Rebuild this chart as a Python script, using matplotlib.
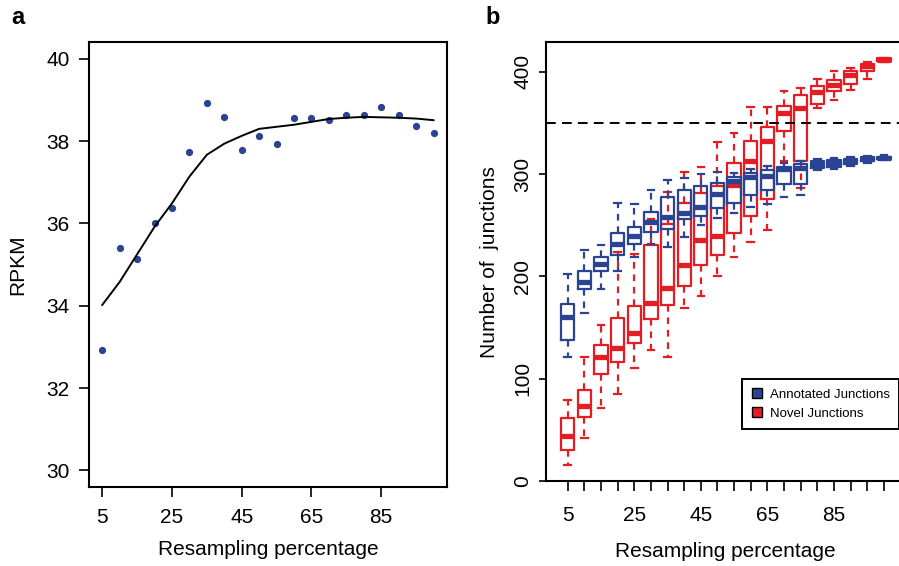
import matplotlib
matplotlib.use("Agg")
import matplotlib.pyplot as plt
from matplotlib.lines import Line2D

plt.rcParams['font.family'] = ['Liberation Sans', 'DejaVu Sans']

# ---- panel a: RPKM vs resampling percentage ----
pct = [5, 10, 15, 20, 25, 30, 35, 40, 45, 50, 55, 60, 65, 70, 75, 80, 85, 90, 95, 100]
rpkm = [32.93, 35.40, 35.13, 36.02, 36.38, 37.74, 38.93, 38.59, 37.78, 38.12,
        37.94, 38.56, 38.57, 38.51, 38.64, 38.64, 38.83, 38.64, 38.38, 38.20]
rpkm_trend = [34.02, 34.58, 35.25, 35.92, 36.49, 37.14, 37.67, 37.94, 38.13, 38.30,
              38.35, 38.40, 38.47, 38.54, 38.57, 38.59, 38.58, 38.57, 38.55, 38.51]
a_xticks = [5, 25, 45, 65, 85]
a_yticks = [30, 32, 34, 36, 38, 40]

# ---- panel b: junction counts per resampling level (five-number summaries) ----
# lower whisker, Q1, median, Q3, upper whisker
annot_lo = [121, 164, 188, 205, 219, 232, 229, 239, 250, 257, 262, 268, 271, 278, 280, 304, 305, 308, 311, 313.5]
annot_q1 = [138, 188, 205, 221, 232, 243, 246, 256, 259, 267, 272, 280, 284, 290, 290, 306, 307, 310, 312.5, 314.5]
annot_med = [160, 195, 212, 232, 240, 253, 258, 262, 268, 281, 293, 297, 298, 305, 306, 310, 311, 313, 314.5, 316]
annot_q3 = [173, 205, 219, 242, 248, 263, 278, 284, 288, 291, 297, 301, 304, 307, 310, 313, 314, 315, 316.5, 317]
annot_hi = [202, 226, 231, 272, 271, 284, 294, 296, 300, 302, 301, 305, 308, 311, 313, 315, 316, 317, 318, 318.5]

novel_lo = [16, 42, 71, 85, 111, 128, 121, 169, 181, 200, 219, 234, 245, 313, 286, 365, 372, 382, 393, 409.5]
novel_q1 = [30, 63, 105, 116, 135, 158, 172, 191, 211, 221, 242, 259, 276, 342, 313, 369, 381, 388, 401, 411]
novel_med = [44, 73.5, 121, 130, 145, 174, 189, 211, 236, 240, 289, 313, 332, 360, 365, 380, 387, 396.5, 405.6, 412]
novel_q3 = [62, 89, 133, 159, 171, 231, 251, 272, 282, 288, 311, 332, 346, 367, 377, 386, 392, 401, 408, 413]
novel_hi = [79, 121, 153, 224, 222, 256, 283, 302, 307, 331, 340, 366, 366, 381, 384, 393, 401, 404, 410, 413.5]

b_labels = ['5', '', '', '', '25', '', '', '', '45', '', '', '', '65', '', '', '', '85', '', '', '']
b_yticks = [0, 100, 200, 300, 400]
threshold = 350

BLUE = '#2B4393'
RED = '#E31D23'
FS = 15

fig = plt.figure(figsize=(8.99, 5.66), dpi=100)

# ---------------- panel a ----------------
ax1 = fig.add_axes([0.099, 0.140, 0.398, 0.785])
ax1.plot(pct, rpkm, linestyle='none', marker='o', markersize=4.2,
         markerfacecolor=BLUE, markeredgecolor=BLUE)
ax1.plot(pct, rpkm_trend, color='black', linewidth=1.4)
ax1.set_xlim(1.2, 103.8)
ax1.set_ylim(29.6, 40.4)
ax1.set_xticks(a_xticks)
ax1.set_yticks(a_yticks)
ax1.tick_params(axis='both', labelsize=FS, length=7, width=1.2, direction='out')
ax1.tick_params(axis='x', pad=8)
ax1.tick_params(axis='y', pad=7)
for s in ax1.spines.values():
    s.set_linewidth(1.5)
ax1.set_xlabel('Resampling percentage', fontsize=FS)
ax1.xaxis.set_label_coords(0.5, -0.142)
ax1.xaxis.label.set_va('center')
ax1.set_ylabel('RPKM', fontsize=FS)
ax1.yaxis.set_label_coords(-0.20, 0.5)
ax1.yaxis.label.set_va('center')

# ---------------- panel b ----------------
ax2 = fig.add_axes([0.6073, 0.150, 0.4000, 0.7756])
positions = list(range(1, len(pct) + 1))


def five_num(lo, q1, med, q3, hi):
    return [dict(whislo=a, q1=b, med=c, q3=d, whishi=e)
            for a, b, c, d, e in zip(lo, q1, med, q3, hi)]


def draw_boxes(stats, color, z):
    ax2.bxp(stats, positions=positions, widths=0.8, capwidths=0.4,
            showfliers=False, patch_artist=False, manage_ticks=False,
            boxprops=dict(color=color, linewidth=1.6),
            whiskerprops=dict(color=color, linewidth=1.6, linestyle=(0, (3, 2.6))),
            capprops=dict(color=color, linewidth=1.6),
            medianprops=dict(color=color, linewidth=3.8, solid_capstyle='butt'),
            zorder=z)


draw_boxes(five_num(novel_lo, novel_q1, novel_med, novel_q3, novel_hi), RED, 2)
draw_boxes(five_num(annot_lo, annot_q1, annot_med, annot_q3, annot_hi), BLUE, 3)

ax2.axhline(threshold, color='black', linewidth=1.4, linestyle=(0, (5, 3.2)), zorder=4)

ax2.set_xlim(-0.305, 21.3)
ax2.set_ylim(0, 429)
ax2.set_xticks(positions)
ax2.set_xticklabels(b_labels)
ax2.set_yticks(b_yticks)
ax2.set_yticklabels([str(v) for v in b_yticks], rotation=90, va='center')
ax2.tick_params(axis='both', labelsize=FS, width=1.2, direction='out')
ax2.tick_params(axis='x', length=7, pad=11)
ax2.tick_params(axis='y', length=5, pad=5)
for s in ax2.spines.values():
    s.set_linewidth(1.5)
ax2.set_xlabel('Resampling percentage', fontsize=FS)
ax2.xaxis.set_label_coords(0.5, -0.161)
ax2.xaxis.label.set_va('center')
ax2.set_ylabel('Number of  junctions', fontsize=FS)
ax2.yaxis.set_label_coords(-0.156, 0.5)
ax2.yaxis.label.set_va('center')

handles = [
    Line2D([], [], linestyle='none', marker='s', markersize=7,
           markerfacecolor=BLUE, markeredgecolor='black', markeredgewidth=1.0,
           label='Annotated Junctions'),
    Line2D([], [], linestyle='none', marker='s', markersize=7,
           markerfacecolor=RED, markeredgecolor='black', markeredgewidth=1.0,
           label='Novel Junctions'),
]
leg = ax2.legend(handles=handles, loc='lower left', bbox_to_anchor=(0.546, 0.118),
                 fontsize=9.5, frameon=True, fancybox=False, framealpha=1,
                 edgecolor='black', borderpad=0.7, handlelength=0.8,
                 handletextpad=0.6, labelspacing=0.55, borderaxespad=0)
leg.get_frame().set_linewidth(1.4)
leg.set_zorder(10)

# panel tags
fig.text(18 / 899, 1 - 17 / 566, 'a', fontsize=17, fontweight='bold', ha='center', va='center')
fig.text(493 / 899, 1 - 17 / 566, 'b', fontsize=17, fontweight='bold', ha='center', va='center')

fig.savefig('out.png', dpi=100)
